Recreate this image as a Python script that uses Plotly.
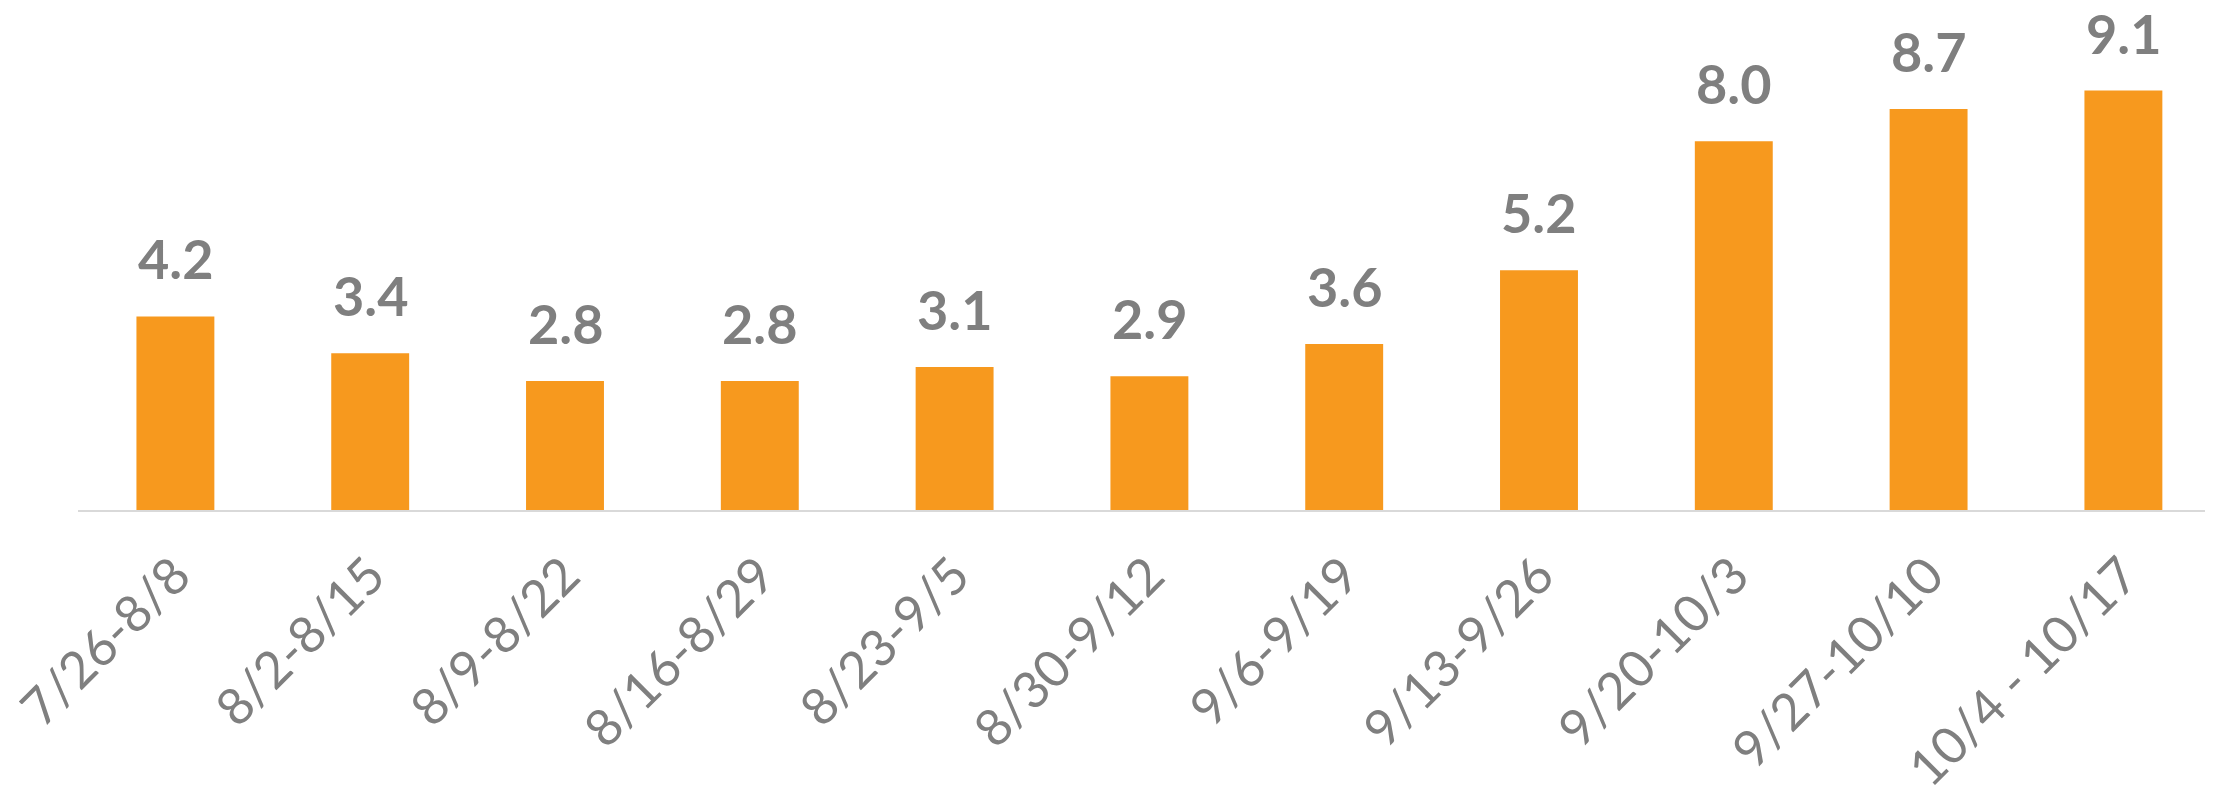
import plotly.graph_objects as go

categories = ["7/26-8/8", "8/2-8/15", "8/9-8/22", "8/16-8/29", "8/23-9/5", "8/30-9/12",
              "9/6-9/19", "9/13-9/26", "9/20-10/3", "9/27-10/10", "10/4 - 10/17"]
values = [4.2, 3.4, 2.8, 2.8, 3.1, 2.9, 3.6, 5.2, 8.0, 8.7, 9.1]
value_labels = ["4.2", "3.4", "2.8", "2.8", "3.1", "2.9", "3.6", "5.2", "8.0", "8.7", "9.1"]

BAR = "#F7991E"
GRAY = "#7F7F7F"

fig = go.Figure()
fig.add_trace(go.Bar(x=categories, y=values, marker=dict(color=BAR, line=dict(width=0)),
                     hoverinfo="x+y"))

for c, v, t in zip(categories, values, value_labels):
    fig.add_annotation(x=c, y=v, text=t, showarrow=False, yanchor="bottom", yshift=23,
                       font=dict(family="Lato", size=54, color=GRAY, weight="bold"))

fig.update_layout(
    width=2205, height=789,
    margin=dict(l=70, r=0, t=0, b=287),
    paper_bgcolor="white", plot_bgcolor="white",
    bargap=0.6, showlegend=False,
    xaxis=dict(type="category", range=[-0.5, 10.46], showline=True, linecolor="#D9D9D9",
               linewidth=2, showgrid=False, ticks="", tickangle=-45, ticklabelstandoff=13,
               automargin=False,
               tickfont=dict(family="Lato", size=51, color=GRAY)),
    yaxis=dict(range=[0, 10.89], visible=False, showgrid=False, zeroline=False,
               automargin=False),
)

fig.write_html("out.html")
